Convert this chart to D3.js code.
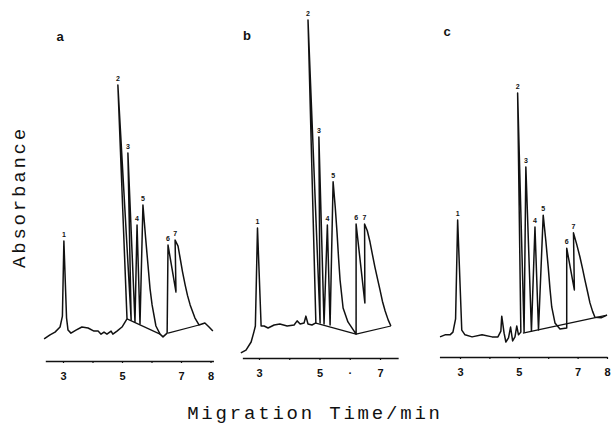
<!DOCTYPE html>
<html>
<head>
<meta charset="utf-8">
<script src="https://cdn.jsdelivr.net/npm/d3@7"></script>
<style>
body { margin: 0; background: #fff; }
text { fill: #111; }
</style>
</head>
<body>
<script>
// electropherograms a, b, c : [migration time (min), absorbance (arb.)]
var traceA = [[2.36,6.2],[2.56,7.4],[2.73,8.2],[2.90,9.7],[2.98,12.9],[3.03,35.0],[3.12,12.4],[3.17,8.8],
  [3.27,7.9],[3.44,8.8],[3.64,9.7],[3.85,9.4],[4.05,8.5],[4.19,8.5],[4.29,7.6],[4.39,8.2],[4.49,7.6],
  [4.63,8.5],[4.69,7.6],[4.83,8.5],[5.00,9.7],[5.17,12.1],[4.86,80.9],[5.31,11.8],[5.20,60.9],[5.44,11.2],
  [5.51,39.7],[5.61,10.6],[5.71,45.6],[5.80,36.0],[5.88,28.0],[5.95,21.0],[6.02,16.2],[6.15,10.0],[6.29,7.6],[6.39,6.8],[6.53,7.9],
  [6.56,33.8],[6.83,20.0],[6.80,35.3],[6.90,33.5],[6.97,30.0],[7.05,26.0],[7.14,22.1],[7.22,19.0],[7.31,16.2],[7.47,12.4],[7.61,10.3],
  [7.81,10.9],[7.95,9.7],[8.08,8.5]];
var traceB = [[2.40,2.1],[2.57,2.9],[2.74,5.3],[2.83,8.2],[2.88,10.0],[2.95,38.8],[3.07,10.0],[3.17,10.0],
  [3.30,9.4],[3.50,10.3],[3.69,10.6],[3.93,10.0],[4.16,10.3],[4.26,11.5],[4.36,10.6],[4.49,10.9],[4.55,12.9],
  [4.62,10.6],[4.75,10.3],[4.88,10.9],[4.62,100],[5.02,10.9],[4.98,65.6],[5.15,10.6],[5.26,39.7],[5.35,10.3],
  [5.45,52.4],[5.52,45.0],[5.58,37.4],[5.63,30.0],[5.68,23.5],[5.78,15.3],[5.94,11.2],[6.21,7.6],[6.21,40.0],[6.50,16.8],[6.49,40.0],
  [6.58,38.0],[6.67,34.7],[6.75,31.0],[6.83,27.4],[6.92,23.8],[7.00,20.6],[7.08,17.3],[7.17,14.4],[7.27,11.8],[7.36,10.0]];
var traceC = [[2.32,6.8],[2.49,7.4],[2.66,7.4],[2.76,8.2],[2.85,12.1],[2.92,41.2],[3.06,8.8],[3.17,7.4],
  [3.41,6.8],[3.75,7.4],[4.09,6.8],[4.29,6.8],[4.39,8.5],[4.42,12.9],[4.50,7.9],[4.56,5.3],[4.65,6.5],
  [4.72,9.7],[4.79,5.6],[4.87,6.8],[4.93,10.0],[4.99,7.4],[5.07,8.2],[4.96,78.5],[5.18,8.2],[5.24,56.8],
  [5.43,8.5],[5.55,39.1],[5.67,8.8],[5.83,42.6],[5.92,35.0],[6.00,27.4],[6.06,21.0],[6.12,15.6],[6.23,10.9],[6.40,9.1],[6.63,9.4],
  [6.63,32.9],[6.89,20.6],[6.86,37.4],[6.97,34.0],[7.08,30.3],[7.17,26.8],[7.25,23.5],[7.34,20.0],[7.42,16.8],[7.51,14.3],[7.59,12.6],[7.80,12.4],[8.00,13.2]];

// integrator baselines drawn under the peaks
var baseA = [[[5.17,12.1],[6.29,7.6]], [[6.56,7.9],[7.61,10.3]]];
var baseB = [[[4.85,10.9],[6.21,7.6]], [[6.21,7.6],[7.36,10.0]]];
var baseC = [[[5.14,7.9],[8.00,13.2]]];

// peak numbers at the apex
var peaksA = [[1,3.03,35.0],[2,4.86,80.9],[3,5.20,60.9],[4,5.51,39.7],[5,5.71,45.6],[6,6.56,33.8],[7,6.80,35.3]];
var peaksB = [[1,2.95,38.8],[2,4.62,100],[3,4.98,65.6],[4,5.26,39.7],[5,5.45,52.4],[6,6.21,40.0],[7,6.49,40.0]];
var peaksC = [[1,2.92,41.2],[2,4.96,78.5],[3,5.24,56.8],[4,5.55,39.1],[5,5.83,42.6],[6,6.63,32.9],[7,6.86,37.4]];

// time axes
var axisExtA = [2.4, 8.1], axisExtB = [2.45, 7.6], axisExtC = [2.3, 8.0];
var ticksA = [3,4,5,6,7,8], ticksB = [3,4,5,6,7], ticksC = [3,4,5,6,7,8];
var tickTextA = {3:"3", 5:"5", 7:"7", 8:"8"};
var tickTextB = {3:"3", 5:"5", 6:"\u00b7", 7:"7"};
var tickTextC = {3:"3", 5:"5", 7:"7", 8:"8"};

var w = 611, h = 428;
var svg = d3.select("body").append("svg")
  .attr("width", w)
  .attr("height", h);

var y = d3.scaleLinear().domain([0, 100]).range([360, 20]);

var panels = [
  {name:"a", trace:traceA, base:baseA, peaks:peaksA, ext:axisExtA, ticks:ticksA, tt:tickTextA,
   x:d3.scaleLinear().domain([3, 8]).range([63, 210.5]), axisY:361, lx:60, ly:41},
  {name:"b", trace:traceB, base:baseB, peaks:peaksB, ext:axisExtB, ticks:ticksB, tt:tickTextB,
   x:d3.scaleLinear().domain([3, 8]).range([259, 410.25]), axisY:358, lx:247, ly:40},
  {name:"c", trace:traceC, base:baseC, peaks:peaksC, ext:axisExtC, ticks:ticksC, tt:tickTextC,
   x:d3.scaleLinear().domain([3, 8]).range([460, 607]), axisY:357, lx:447, ly:36}
];

panels.forEach(function(p) {
  var g = svg.append("g");
  var line = d3.line()
    .x(function(d) { return p.x(d[0]); })
    .y(function(d) { return y(d[1]); });

  g.append("path")
    .attr("d", line(p.trace))
    .attr("fill", "none")
    .attr("stroke", "#111")
    .attr("stroke-width", 1.5)
    .attr("stroke-linejoin", "round");

  g.selectAll("path.base")
    .data(p.base)
    .enter()
    .append("path")
    .attr("class", "base")
    .attr("d", line)
    .attr("fill", "none")
    .attr("stroke", "#111")
    .attr("stroke-width", 1.2);

  g.selectAll("text.pk")
    .data(p.peaks)
    .enter()
    .append("text")
    .attr("class", "pk")
    .attr("x", function(d) { return p.x(d[1]); })
    .attr("y", function(d) { return y(d[2]) - 4; })
    .attr("text-anchor", "middle")
    .attr("font-family", "Liberation Sans, Arial, sans-serif")
    .attr("font-weight", "bold")
    .attr("font-size", 7)
    .text(function(d) { return d[0]; });

  // axis on a copy of the scale clipped to the drawn line length
  var xa = p.x.copy().domain(p.ext).range(p.ext.map(p.x));
  var axis = d3.axisBottom(xa)
    .tickValues(p.ticks)
    .tickSizeInner(2)
    .tickSizeOuter(0)
    .tickPadding(9)
    .tickFormat(function(d) { return p.tt[d] || ""; });
  var ag = g.append("g")
    .attr("transform", "translate(0," + p.axisY + ")")
    .call(axis);
  ag.select(".domain").attr("stroke", "#111").attr("stroke-width", 1.4);
  ag.selectAll(".tick line").attr("stroke", "#111").attr("stroke-width", 1.2);
  ag.selectAll(".tick text")
    .attr("fill", "#111")
    .attr("font-family", "Liberation Sans, Arial, sans-serif")
    .attr("font-weight", "bold")
    .attr("font-size", 11);

  g.append("text")
    .attr("x", p.lx)
    .attr("y", p.ly)
    .attr("text-anchor", "middle")
    .attr("font-family", "Liberation Sans, Arial, sans-serif")
    .attr("font-weight", "bold")
    .attr("font-size", 13)
    .text(p.name);
});

svg.append("text")
  .attr("transform", "translate(25,197) rotate(-90)")
  .attr("text-anchor", "middle")
  .attr("font-family", "Liberation Mono, Courier New, monospace")
  .attr("font-size", 19)
  .attr("letter-spacing", 2.8)
  .text("Absorbance");

svg.append("text")
  .attr("x", 315)
  .attr("y", 419)
  .attr("text-anchor", "middle")
  .attr("font-family", "Liberation Mono, Courier New, monospace")
  .attr("font-size", 19)
  .attr("letter-spacing", 2.8)
  .text("Migration Time/min");
</script>
</body>
</html>
